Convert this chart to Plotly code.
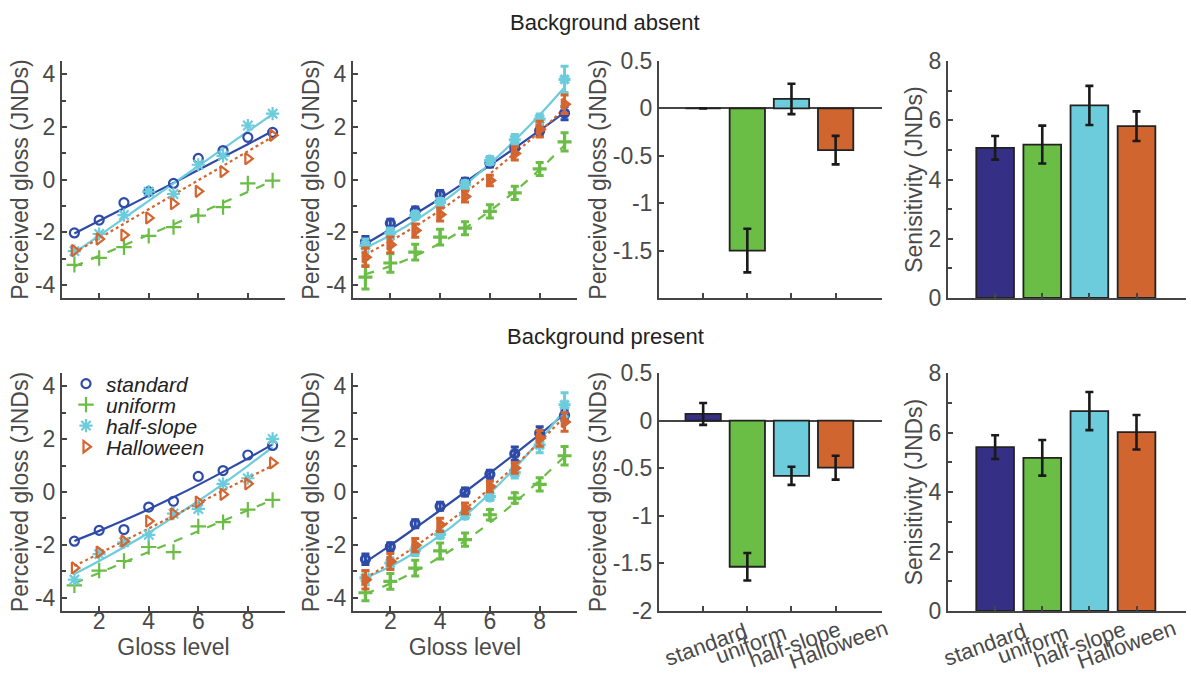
import plotly.graph_objects as go

# ---------------- data ----------------
gloss = [1, 2, 3, 4, 5, 6, 7, 8, 9]
conditions = ["standard", "uniform", "half-slope", "Halloween"]

# Background absent, panel 1 (points and fitted curves)
abs1_std = [-2.03, -1.54, -0.88, -0.46, -0.15, 0.80, 1.10, 1.60, 1.79]
abs1_uni = [-3.24, -2.98, -2.57, -2.14, -1.81, -1.37, -1.05, -0.15, -0.04]
abs1_half = [-2.72, -2.07, -1.35, -0.46, -0.55, 0.56, 0.90, 2.05, 2.50]
abs1_hal = [-2.70, -2.26, -2.11, -1.46, -0.92, -0.45, 0.30, 0.79, 1.68]
abs1_std_fit = [-2.05, -1.57, -1.09, -0.61, -0.13, 0.36, 0.85, 1.34, 1.84]
abs1_uni_fit = [-3.30, -2.90, -2.50, -2.10, -1.70, -1.30, -0.88, -0.47, -0.05]
abs1_half_fit = [-2.78, -2.13, -1.47, -0.81, -0.15, 0.51, 1.17, 1.83, 2.48]
abs1_hal_fit = [-2.78, -2.23, -1.68, -1.13, -0.58, -0.03, 0.52, 1.07, 1.62]

# Background absent, panel 2 (means with error bars, fitted curves)
abs2_std = [-2.36, -1.66, -1.19, -0.57, -0.10, 0.62, 1.20, 1.85, 2.52]
abs2_uni = [-3.71, -3.17, -2.76, -2.19, -1.85, -1.21, -0.51, 0.40, 1.43]
abs2_half = [-2.51, -2.04, -1.37, -0.87, -0.20, 0.72, 1.51, 2.29, 3.80]
abs2_hal = [-2.95, -2.48, -1.94, -1.33, -0.65, -0.04, 0.99, 1.91, 2.86]
abs2_std_err = [0.20, 0.15, 0.15, 0.15, 0.15, 0.15, 0.20, 0.20, 0.25]
abs2_uni_err = [0.45, 0.35, 0.30, 0.30, 0.25, 0.25, 0.25, 0.25, 0.35]
abs2_half_err = [0.25, 0.20, 0.15, 0.15, 0.15, 0.15, 0.20, 0.20, 0.50]
abs2_hal_err = [0.35, 0.30, 0.25, 0.25, 0.20, 0.20, 0.25, 0.30, 0.35]
abs2_std_fit = [-2.45, -1.89, -1.31, -0.72, -0.10, 0.54, 1.19, 1.86, 2.55]
abs2_uni_fit = [-3.60, -3.29, -2.90, -2.42, -1.85, -1.19, -0.45, 0.38, 1.30]
abs2_half_fit = [-2.60, -2.12, -1.56, -0.92, -0.20, 0.60, 1.49, 2.45, 3.50]
abs2_hal_fit = [-2.85, -2.34, -1.78, -1.17, -0.50, 0.22, 1.00, 1.82, 2.70]

# Background present, panel 1
pre1_std = [-1.86, -1.45, -1.42, -0.57, -0.35, 0.59, 0.81, 1.40, 1.76]
pre1_uni = [-3.53, -2.97, -2.61, -2.08, -2.27, -1.30, -1.14, -0.67, -0.30]
pre1_half = [-3.31, -2.35, -1.90, -1.62, -0.82, -0.64, 0.31, 0.52, 2.01]
pre1_hal = [-2.87, -2.27, -1.86, -1.10, -0.83, -0.38, -0.09, 0.31, 1.10]
pre1_std_fit = [-1.85, -1.47, -1.07, -0.65, -0.20, 0.27, 0.76, 1.27, 1.80]
pre1_uni_fit = [-3.45, -3.06, -2.66, -2.27, -1.88, -1.48, -1.09, -0.69, -0.30]
pre1_half_fit = [-3.10, -2.61, -2.09, -1.54, -0.95, -0.34, 0.31, 0.99, 1.70]
pre1_hal_fit = [-2.80, -2.33, -1.85, -1.38, -0.90, -0.43, 0.05, 0.53, 1.00]

# Background present, panel 2
pre2_std = [-2.54, -2.07, -1.20, -0.54, 0.00, 0.67, 1.45, 2.22, 2.90]
pre2_uni = [-3.81, -3.38, -2.88, -2.23, -1.80, -0.86, -0.23, 0.29, 1.37]
pre2_half = [-3.25, -2.69, -2.20, -1.60, -0.86, -0.17, 0.73, 1.78, 3.30]
pre2_hal = [-3.32, -2.63, -2.01, -1.24, -0.62, 0.21, 0.91, 2.03, 2.65]
pre2_std_err = [0.20, 0.15, 0.15, 0.15, 0.15, 0.15, 0.25, 0.25, 0.20]
pre2_uni_err = [0.30, 0.30, 0.30, 0.30, 0.25, 0.20, 0.20, 0.25, 0.35]
pre2_half_err = [0.25, 0.20, 0.20, 0.15, 0.15, 0.15, 0.20, 0.30, 0.45]
pre2_hal_err = [0.35, 0.30, 0.25, 0.25, 0.20, 0.20, 0.20, 0.30, 0.35]
pre2_std_fit = [-2.65, -2.02, -1.36, -0.69, 0.00, 0.71, 1.44, 2.18, 2.95]
pre2_uni_fit = [-3.85, -3.46, -3.00, -2.46, -1.85, -1.16, -0.40, 0.44, 1.35]
pre2_half_fit = [-3.25, -2.82, -2.28, -1.64, -0.90, -0.05, 0.90, 1.95, 3.10]
pre2_hal_fit = [-3.25, -2.68, -2.06, -1.38, -0.65, 0.14, 0.99, 1.89, 2.85]

# Bar panels
abs_bias = [0.0, -1.50, 0.10, -0.44]
abs_bias_err = [0.0, 0.23, 0.16, 0.15]
pre_bias = [0.07, -1.535, -0.58, -0.495]
pre_bias_err = [0.115, 0.145, 0.095, 0.125]
abs_sens = [5.07, 5.18, 6.50, 5.80]
abs_sens_err = [0.40, 0.64, 0.66, 0.50]
pre_sens = [5.51, 5.15, 6.72, 6.01]
pre_sens_err = [0.40, 0.60, 0.64, 0.58]

bias_ticks = [0.5, 0, -0.5, -1, -1.5, -2]
bias_ticktext = ["0.5", "0", "-0.5", "-1", "-1.5", "-2"]
gloss_yticks = [-4, -2, 0, 2, 4]
gloss_yticktext = ["-4", "-2", "0", "2", "4"]
gloss_xticks = [2, 4, 6, 8]
sens_ticks = [0, 2, 4, 6, 8]

# ---------------- style ----------------
FONT = "Liberation Sans, Arial, sans-serif"
AX = "#454545"
TXT = "#4a4a4a"
line_cols = ["#2E4BA8", "#6ABD45", "#6DCCDC", "#D4652F"]
bar_cols = ["#352F85", "#6ABD45", "#6DCCDC", "#D06530"]
symbols = ["circle-open", "cross-thin-open", "asterisk-open", "triangle-right-open"]
msizes = [9, 11, 11, 10]
dashes = ["solid", "dash", "solid", "dot"]

W, H = 1191, 677


def dx(a, b):
    return [a / W, b / W]


def dy(top, bottom):
    return [1 - bottom / H, 1 - top / H]


col_x = [dx(62, 285), dx(353, 577), dx(659, 882), dx(948, 1186)]
row_y = [dy(61, 298), dy(373, 611)]
label_shift = {2: 3, 3: -10}

fig = go.Figure()


def add_line_panel(k, obs, fits, errs=None, legend=False):
    xa, ya = f"x{k}", f"y{k}"
    for i in range(4):
        fig.add_trace(go.Scatter(
            x=gloss, y=fits[i], mode="lines", xaxis=xa, yaxis=ya,
            line=dict(color=line_cols[i], width=2.2, dash=dashes[i], shape="spline"),
            showlegend=False, hoverinfo="skip"))
    mw = 2.2 if errs is None else 3.2
    for i in range(4):
        tr = dict(
            x=gloss, y=obs[i], mode="markers", xaxis=xa, yaxis=ya, name=conditions[i],
            marker=dict(symbol=symbols[i], size=msizes[i] - (1 if errs else 0),
                        color=line_cols[i], line=dict(color=line_cols[i], width=mw)),
            showlegend=legend)
        if errs is not None:
            tr["error_y"] = dict(type="data", array=errs[i], color=line_cols[i],
                                 thickness=3, width=4)
        if legend:
            tr["legend"] = "legend" if i == 0 else f"legend{i + 1}"
        fig.add_trace(go.Scatter(**tr))


def add_bar_panel(k, vals, errs):
    fig.add_trace(go.Bar(
        x=conditions, y=vals, xaxis=f"x{k}", yaxis=f"y{k}", width=0.8,
        marker=dict(color=bar_cols, line=dict(color="#222222", width=1.8)),
        error_y=dict(type="data", array=errs, color="#1a1a1a", thickness=2.6, width=4),
        showlegend=False))


add_line_panel(1, [abs1_std, abs1_uni, abs1_half, abs1_hal],
               [abs1_std_fit, abs1_uni_fit, abs1_half_fit, abs1_hal_fit])
add_line_panel(2, [abs2_std, abs2_uni, abs2_half, abs2_hal],
               [abs2_std_fit, abs2_uni_fit, abs2_half_fit, abs2_hal_fit],
               [abs2_std_err, abs2_uni_err, abs2_half_err, abs2_hal_err])
add_bar_panel(3, abs_bias, abs_bias_err)
add_bar_panel(4, abs_sens, abs_sens_err)
add_line_panel(5, [pre1_std, pre1_uni, pre1_half, pre1_hal],
               [pre1_std_fit, pre1_uni_fit, pre1_half_fit, pre1_hal_fit], legend=True)
add_line_panel(6, [pre2_std, pre2_uni, pre2_half, pre2_hal],
               [pre2_std_fit, pre2_uni_fit, pre2_half_fit, pre2_hal_fit],
               [pre2_std_err, pre2_uni_err, pre2_half_err, pre2_hal_err])
add_bar_panel(7, pre_bias, pre_bias_err)
add_bar_panel(8, pre_sens, pre_sens_err)

common = dict(showline=True, linecolor=AX, linewidth=2, ticks="inside", ticklen=5,
              tickwidth=1.5, tickcolor=AX, showgrid=False, zeroline=False,
              automargin=False,
              tickfont=dict(family=FONT, size=23, color=TXT),
              title_font=dict(family=FONT, size=23, color=TXT))

layout = {}
annotations = [
    dict(text="Background absent", x=605 / W, y=1 - 22 / H, xref="paper", yref="paper",
         xanchor="center", yanchor="middle",
         showarrow=False, font=dict(family=FONT, size=22, color="#222222")),
    dict(text="Background present", x=605 / W, y=1 - 337 / H, xref="paper", yref="paper",
         xanchor="center", yanchor="middle",
         showarrow=False, font=dict(family=FONT, size=22, color="#222222")),
]
for r in range(2):
    for c in range(4):
        k = r * 4 + c + 1
        xa = dict(common, domain=col_x[c], anchor=f"y{k}")
        ya = dict(common, domain=row_y[r], anchor=f"x{k}")
        if c < 2:
            xa.update(range=[0.5, 9.5], tickvals=gloss_xticks, showticklabels=(r == 1),
                      ticklabelstandoff=-12)
            if r == 1:
                xa.update(title=dict(text="Gloss level", standoff=2))
            ya.update(range=[-4.5, 4.5], tickvals=gloss_yticks, ticktext=gloss_yticktext,
                      minor=dict(dtick=1, ticks="inside", ticklen=4, tickcolor=AX),
                      title=dict(text="Perceived gloss (JNDs)", standoff=0))
        else:
            xa.update(type="category", range=[-1, 4.05], showticklabels=False)
            if r == 1:
                for name in conditions:
                    annotations.append(dict(
                        text=name, x=name, xref=f"x{k}", y=1 - 644 / H, yref="paper",
                        xanchor="center", yanchor="middle", textangle=-20,
                        xshift=label_shift[c],
                        showarrow=False, font=dict(family=FONT, size=22, color=TXT)))
            if c == 2:
                tv = bias_ticks if r == 1 else bias_ticks[:-1]
                tt = bias_ticktext if r == 1 else bias_ticktext[:-1]
                ya.update(range=[-2, 0.5], tickvals=tv, ticktext=tt, zeroline=True,
                          zerolinecolor=AX, zerolinewidth=2,
                          title=dict(text="Perceived gloss (JNDs)", standoff=0))
            else:
                ya.update(range=[0, 8], tickvals=sens_ticks,
                          minor=dict(dtick=1, ticks="inside", ticklen=4, tickcolor=AX),
                          title=dict(text="Senisitivity (JNDs)", standoff=0))
        layout[f"xaxis{k}"] = xa
        layout[f"yaxis{k}"] = ya

leg_y = [384, 405, 426, 447]
for i in range(4):
    name = "legend" if i == 0 else f"legend{i + 1}"
    layout[name] = dict(x=66 / W, y=1 - leg_y[i] / H, xanchor="left", yanchor="middle",
                        bgcolor="rgba(0,0,0,0)", borderwidth=0,
                        font=dict(family=FONT, size=21, color="#222222", style="italic"))

fig.update_layout(
    template="none",
    width=W, height=H, margin=dict(l=0, r=0, t=0, b=0, autoexpand=False),
    paper_bgcolor="white", plot_bgcolor="white",
    font=dict(family=FONT, color=TXT),
    annotations=annotations,
    **layout)

fig.write_html("out.html", config={"displayModeBar": False},
               post_script="document.body.style.margin='0';document.body.style.padding='0';")
